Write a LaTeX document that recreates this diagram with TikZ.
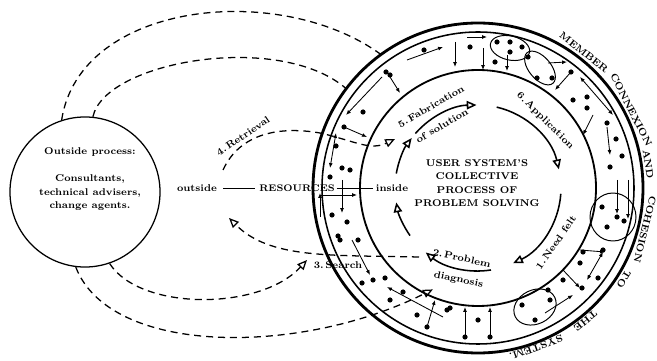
\documentclass[tikz,border=0pt]{standalone}
\usepackage{amsmath}
\usepackage{tikz}
\usetikzlibrary{calc,arrows.meta,positioning}
\tikzset{event/.style={draw=none, inner sep=0.4mm, font=\scriptsize\bfseries}}
\tikzset{word/.style={draw=none, inner sep=0mm, font=\fontsize{7}{8}\selectfont\bfseries}}
\tikzset{member/.style={fill=black}}
\tikzset{group/.style={draw, line width=0.7pt}}
\tikzset{
  edgeproc/.style={black, line width=1.1pt, -{Triangle[open,length=7pt,width=6pt]}},
  edgedash/.style={black, line width=0.9pt, dash pattern=on 5pt off 3.5pt},
  edgeout/.style={black, line width=0.9pt, dash pattern=on 5pt off 3.5pt, -{Triangle[open,length=7pt,width=6pt]}},
  edgering/.style={black, line width=0.6pt, -{Latex[length=3.5pt,width=2.8pt]}},
  edgeboth/.style={black, line width=0.6pt, {Latex[length=3.5pt,width=2.8pt]}-{Latex[length=3.5pt,width=2.8pt]}}
}

\begin{document}
\begin{tikzpicture}[x=0.025cm, y=0.025cm, inner sep=1pt]
\useasboundingbox (0,0) rectangle (657,361);

% outside resource persons
\node[draw, circle, line width=0.9pt, minimum size=3.75cm, inner sep=0pt](outproc) at (85,169) {};

\node[event, align=center, font=\fontsize{7}{9.6}\selectfont\bfseries](outtext) at (90,182) 
{Outside process:\\[10pt]Consultants,\\technical advisers,\\change agents.};

% user system rings
\coordinate (sys) at (478,173);
\draw[line width=2pt] (sys) circle[radius=165];
\draw[line width=1.1pt] (sys) circle[radius=156];
\draw[line width=1.3pt] (sys) circle[radius=118];

\node[event, align=center, font=\fontsize{7}{9.6}\selectfont\bfseries](usersys) at (477,178) 
{USER SYSTEM'S\\COLLECTIVE\\PROCESS OF\\PROBLEM SOLVING};

% problem solving cycle
\draw[edgeproc] ($(sys)+(139:83)$) arc[start angle=139, end angle=91, radius=83];
\draw[edgeproc] ($(sys)+(77:83)$) arc[start angle=77, end angle=13, radius=83];
\draw[edgeproc] ($(sys)+(-4:83)$) arc[start angle=-4, end angle=-65, radius=83];
\draw[edgeproc] ($(sys)+(-81:83)$) arc[start angle=-81, end angle=-129, radius=83];
\draw[edgeproc] ($(sys)+(-145:83)$) arc[start angle=-145, end angle=-170, radius=83];
\draw[edgeproc] ($(sys)+(170:83)$) arc[start angle=170, end angle=143, radius=83];

\node[event, rotate=30](fab) at ($(sys)+(120:94)$) {5.\,Fabrication};
\node[event, rotate=30](sol) at ($(sys)+(120:72)$) {of solution};
\node[event, rotate=-45](appl) at ($(sys)+(45:95)$) {6.\,Application};
\node[event, rotate=55](need) at ($(sys)+(-35:95)$) {1.\,Need felt};
\node[event, rotate=-12](prob) at ($(sys)+(-103:72)$) {2.\,Problem};
\node[event, rotate=-12](diag) at ($(sys)+(-102:94)$) {diagnosis};

% resources line
\node[event](outlbl) at (197,173) {outside};
\node[event, font=\fontsize{6.8}{8}\selectfont\bfseries](res) at (297,173) {RESOURCES};
\node[event](inlbl) at (392,173) {inside};
\draw[line width=0.6pt, shorten <=3pt, shorten >=2pt] (outlbl) -- (res);
\draw[line width=0.6pt, shorten >=1pt] (res) -- (inlbl);

% links to outside
\coordinate (topout) at ($(sys)+(126:165)$);
\coordinate (topin) at ($(sys)+(143:165)$);
\coordinate (diagin) at ($(sys)+(-114:111)$);
\coordinate (searchtip) at (307,101);
\coordinate (searchstart) at (419,104);
\coordinate (searchend) at (229,143);
\coordinate (retrstart) at (223,191);
\coordinate (retrtip) at (395,222);

\draw[edgedash] (outproc.108) .. controls (80,360) and (280,380) .. (topout);
\draw[edgedash] (outproc.84) .. controls (105,300) and (280,330) .. (topin);
\draw[edgeout] (outproc.263) .. controls (110,5) and (300,5) .. (diagin);
\draw[edgeout] (outproc.289) .. controls (140,50) and (260,50) .. (searchtip);
\draw[edgeout] (searchstart) .. controls (330,106) and (270,102) .. (searchend);
\draw[edgeout] (retrstart) .. controls (240,228) and (280,235) .. (320,228)
  .. controls (355,220) and (370,210) .. (retrtip);

\node[event, rotate=34](retr) at (243,225) {4.\,Retrieval};
\node[event](srch) at (338,96) {3.\,Search};

% member connexion and cohesion
\node[word, rotate=-38](wmember) at ($(sys)+(52:172)$) {MEMBER};
\node[word, rotate=-63](wconn) at ($(sys)+(27:172)$) {CONNEXION};
\node[word, rotate=-81](wand) at ($(sys)+(8:172)$) {AND};
\node[word, rotate=-104](wcoh) at ($(sys)+(-14:172)$) {COHESION};
\node[word, rotate=-122](wto) at ($(sys)+(-32:172)$) {TO};
\node[word, rotate=-141](wthe) at ($(sys)+(-51:171)$) {THE};
\node[word, rotate=-160](wsys) at ($(sys)+(-70:170)$) {SYSTEM.};

\foreach \x/\y in {386/289, 363/249, 344/234, 336/215, 342/193, 330/184, 424/311, 390/286,
  470/314, 497/319, 510/319, 522/314, 510/309, 495/299, 528/304, 537/283, 552/283, 571/289,
  573/261, 587/264, 587/253, 607/238, 616/222, 622/205, 610/194, 602/154, 617/144, 624/140,
  607/134, 583/109, 603/111, 598/83, 582/73, 563/81, 580/98, 522/56, 548/71, 550/61, 535/41,
  465/24, 490/24, 478/41, 447/51, 417/46, 427/34, 450/53, 403/69, 390/61, 385/83, 373/81,
  362/78, 332/146, 347/139, 338/125, 340/121, 358/121, 350/191}
  \fill[member] (\x,\y) circle[radius=2.6];

\foreach \xa/\ya/\xb/\yb in {382/284/346/246, 344/234/367/224, 390/284/400/268, 407/301/443/314,
  467/324/487/324, 483/313/483/291, 507/306/507/290, 455/319/455/294, 548/298/567/299,
  571/289/555/271, 593/246/583/226, 607/234/610/206, 617/181/617/147, 628/181/628/142,
  580/111/605/109, 563/91/580/73, 545/48/573/66, 465/24/465/54, 490/24/490/54, 427/34/435/61,
  443/44/387/74, 352/121/370/86, 342/181/342/148, 320/166/357/166, 320/144/320/168}
  \draw[edgering] (\xa,\ya) -- (\xb,\yb);

\draw[edgeboth] (330,193) -- (336,228);
\draw[edgeboth] (580,284) -- (613,246);
\draw[edgeboth] (603,109) -- (587,81);

\draw[group, rotate around={-13:(510,313)}] (510,313) ellipse[x radius=20, y radius=12];
\draw[group, rotate around={-50:(540,293)}] (540,293) ellipse[x radius=20, y radius=11];
\draw[group] (613,144) ellipse[x radius=23, y radius=24];
\draw[group, rotate around={26:(535,54)}] (535,54) ellipse[x radius=22, y radius=17];
\end{tikzpicture}
\end{document}
